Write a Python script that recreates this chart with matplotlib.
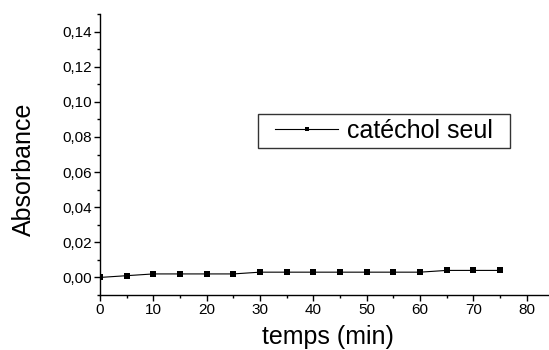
import matplotlib
matplotlib.use("Agg")
import matplotlib.pyplot as plt
from matplotlib.patches import Rectangle
from matplotlib.ticker import MultipleLocator

plt.rcParams['font.family'] = ['Liberation Sans', 'DejaVu Sans']

temps = [0, 5, 10, 15, 20, 25, 30, 35, 40, 45, 50, 55, 60, 65, 70, 75]
absorbance = [0.000, 0.001, 0.002, 0.002, 0.002, 0.002, 0.003, 0.003, 0.003,
              0.003, 0.003, 0.003, 0.003, 0.004, 0.004, 0.004]
series_label = "catéchol seul"
xlabel = "temps (min)"
ylabel = "Absorbance"

fig = plt.figure(figsize=(5.49, 3.5), dpi=100)
ax = fig.add_axes([100/549, 1-295/350, 448/549, (295-14)/350])

ax.plot(temps, absorbance, color='black', lw=0.8, marker='s', ms=4.5,
        markeredgewidth=0, label=series_label)

ax.set_xlim(0, 84)
ax.set_ylim(-0.01, 0.15)
ax.xaxis.set_major_locator(MultipleLocator(10))
ax.xaxis.set_minor_locator(MultipleLocator(5))
ax.yaxis.set_major_locator(MultipleLocator(0.02))
ax.yaxis.set_minor_locator(MultipleLocator(0.01))
ax.yaxis.set_major_formatter(plt.FuncFormatter(lambda v, p: f"{v:.2f}".replace('.', ',').replace('-0,00', '0,00')))

for s in ['top', 'right']:
    ax.spines[s].set_visible(False)
for s in ['left', 'bottom']:
    ax.spines[s].set_linewidth(1.0)

ax.tick_params(which='major', direction='out', length=4, width=1, labelsize=11, pad=2)
ax.tick_params(which='minor', direction='out', length=2.5, width=1)

ax.set_xlabel(xlabel, fontsize=18)
ax.set_ylabel(ylabel, fontsize=18)
ax.yaxis.set_label_coords(-0.143, 0.448)
ax.xaxis.set_label_coords(0.508, -0.105)

# legend box
fig.patches.append(Rectangle((258/549, (350-148)/350), 252/549, 34/350,
                             transform=fig.transFigure, fill=False,
                             edgecolor='#333333', lw=1.0))
leg = fig.legend(loc='center', bbox_to_anchor=(384/549, 1-131/350),
                 bbox_transform=fig.transFigure, frameon=False, fontsize=18,
                 handlelength=2.5, handletextpad=0.35, markerscale=0.6,
                 borderpad=0)
plt.savefig("out.png", dpi=100)
